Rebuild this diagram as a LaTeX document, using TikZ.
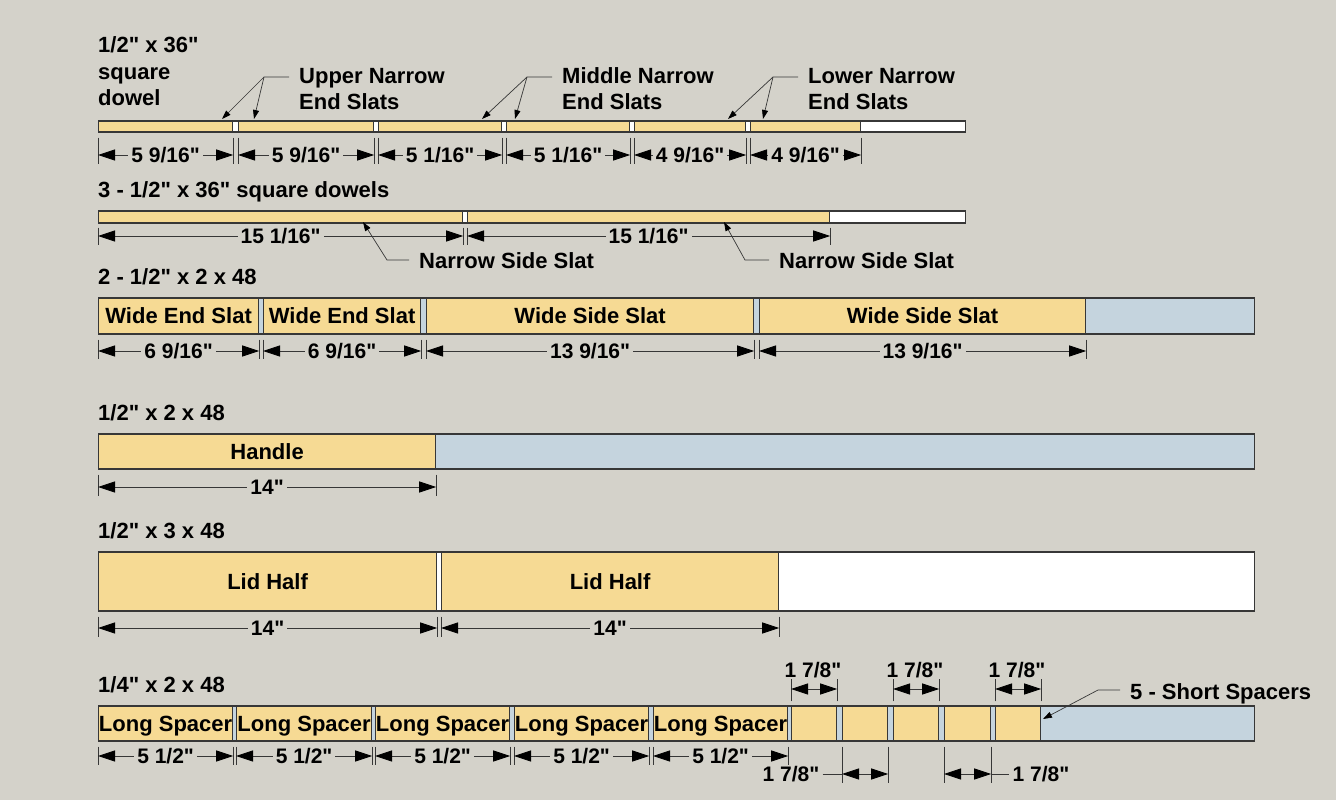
\documentclass[tikz,border=0pt]{standalone}
\usepackage{fontspec}
\newfontfamily\labelfont{Liberation Sans}
\usetikzlibrary{arrows.meta}
\definecolor{bg}{RGB}{212,210,202}
\definecolor{wood}{RGB}{246,218,148}
\definecolor{offcut}{RGB}{197,212,222}
\definecolor{edge}{RGB}{55,55,55}

\begin{document}
\begin{tikzpicture}[x=1pt, y=-1pt,
  stock/.style={draw=edge, line width=1.2pt, inner sep=0pt, anchor=west},
  piece/.style={stock, fill=wood},
  named/.style={piece, text height=15.8pt, text depth=0pt, font=\labelfont\bfseries\fontsize{22}{26}\selectfont},
  rowlbl/.style={anchor=base west, inner sep=0pt, font=\labelfont\bfseries\fontsize{22}{26}\selectfont},
  callout/.style={rowlbl, inner xsep=10pt, align=left},
  dimtxt/.style={fill=bg, inner xsep=3pt, inner ysep=1pt, text height=15pt, text depth=0pt, font=\labelfont\bfseries\fontsize{21}{25}\selectfont},
  dim/.style={draw=edge, line width=0.8pt, arrows={Triangle[length=17pt,width=11pt,color=black]-Triangle[length=17pt,width=11pt,color=black]}},
  ext/.style={draw=edge, line width=0.6pt},
  leader/.style={draw=edge, line width=0.7pt, -{Triangle[length=9pt,width=6pt,color=black]}}]
    \path[fill=bg] (0,0) rectangle (1336,800);

    % 1/2 x 36 dowel
    \node[rowlbl, align=left] (lbl1) at (98,105) {1/2" x 36"\\square\\dowel};
    \node[stock, fill=white, minimum width=867pt, minimum height=11pt] (s1) at (98,126.5) {};
    \node[piece, minimum width=134pt, minimum height=11pt] (a1) at (98,126.5) {};
    \node[piece, minimum width=135pt, minimum height=11pt] (a2) at (238,126.5) {};
    \node[piece, minimum width=123pt, minimum height=11pt] (a3) at (378,126.5) {};
    \node[piece, minimum width=123pt, minimum height=11pt] (a4) at (506,126.5) {};
    \node[piece, minimum width=111pt, minimum height=11pt] (a5) at (634,126.5) {};
    \node[piece, minimum width=110pt, minimum height=11pt] (a6) at (750,126.5) {};
    \coordinate (r1) at (0,155);
    \draw[ext] (a1.south west) ++(0,5) -- ++(0,26) (a1.south east) ++(0,5) -- ++(0,26);
    \draw[ext] (a2.south west) ++(0,5) -- ++(0,26) (a2.south east) ++(0,5) -- ++(0,26);
    \draw[ext] (a3.south west) ++(0,5) -- ++(0,26) (a3.south east) ++(0,5) -- ++(0,26);
    \draw[ext] (a4.south west) ++(0,5) -- ++(0,26) (a4.south east) ++(0,5) -- ++(0,26);
    \draw[ext] (a5.south west) ++(0,5) -- ++(0,26) (a5.south east) ++(0,5) -- ++(0,26);
    \draw[ext] (a6.south west) ++(0,5) -- ++(0,26) (a6.south east) ++(0,5) -- ++(0,26);
    \draw[dim] (a1.south west |- r1) -- node[dimtxt] {5 9/16"} (a1.south east |- r1);
    \draw[dim] (a2.south west |- r1) -- node[dimtxt] {5 9/16"} (a2.south east |- r1);
    \draw[dim] (a3.south west |- r1) -- node[dimtxt] {5 1/16"} (a3.south east |- r1);
    \draw[dim] (a4.south west |- r1) -- node[dimtxt] {5 1/16"} (a4.south east |- r1);
    \draw[dim] (a5.south west |- r1) -- node[dimtxt] {4 9/16"} (a5.south east |- r1);
    \draw[dim] (a6.south west |- r1) -- node[dimtxt] {4 9/16"} (a6.south east |- r1);

    \node[callout] (upper) at (289,110) {Upper Narrow\\End Slats};
    \coordinate (uk) at (264,77);
    \coordinate (ut1) at (222,119); \coordinate (ut2) at (254,119);
    \draw[leader] (upper.west |- uk) -- (uk) -- (ut1); \draw[leader] (uk) -- (ut2);
    \node[callout] (middle) at (552,110) {Middle Narrow\\End Slats};
    \coordinate (mk) at (527,77);
    \coordinate (mt1) at (482,119); \coordinate (mt2) at (515,119);
    \draw[leader] (middle.west |- mk) -- (mk) -- (mt1); \draw[leader] (mk) -- (mt2);
    \node[callout] (lower) at (798,110) {Lower Narrow\\End Slats};
    \coordinate (lk) at (773,77);
    \coordinate (lt1) at (728,119); \coordinate (lt2) at (763,119);
    \draw[leader] (lower.west |- lk) -- (lk) -- (lt1); \draw[leader] (lk) -- (lt2);

    % 3 square dowels
    \node[rowlbl] (lbl2) at (98,197) {3 - 1/2" x 36" square dowels};
    \node[stock, fill=white, minimum width=867pt, minimum height=12pt] (s2) at (98,217) {};
    \node[piece, minimum width=364pt, minimum height=12pt] (b1) at (98,217) {};
    \node[piece, minimum width=362pt, minimum height=12pt] (b2) at (467,217) {};
    \coordinate (r2) at (0,236);
    \draw[ext] (b1.south west) ++(0,4) -- ++(0,17) (b1.south east) ++(0,4) -- ++(0,17);
    \draw[ext] (b2.south west) ++(0,4) -- ++(0,17) (b2.south east) ++(0,4) -- ++(0,17);
    \draw[dim] (b1.south west |- r2) -- node[dimtxt] {15 1/16"} (b1.south east |- r2);
    \draw[dim] (b2.south west |- r2) -- node[dimtxt] {15 1/16"} (b2.south east |- r2);
    \node[callout] (side1) at (409,268) {Narrow Side Slat};
    \coordinate (sk1) at (387,260); \coordinate (st1) at (363,222);
    \draw[leader] (side1.west |- sk1) -- (sk1) -- (st1);
    \node[callout] (side2) at (769,268) {Narrow Side Slat};
    \coordinate (sk2) at (745,260); \coordinate (st2) at (724,222);
    \draw[leader] (side2.west |- sk2) -- (sk2) -- (st2);

    % 2 - 1/2 x 2 x 48
    \node[rowlbl] (lbl3) at (98,284) {2 - 1/2" x 2 x 48};
    \node[stock, fill=offcut, minimum width=1156pt, minimum height=36pt] (s3) at (98,316) {};
    \node[named, minimum width=160pt, minimum height=36pt] (c1) at (98,316) {Wide End Slat};
    \node[named, minimum width=157pt, minimum height=36pt] (c2) at (263,316) {Wide End Slat};
    \node[named, minimum width=327pt, minimum height=36pt] (c3) at (426,316) {Wide Side Slat};
    \node[named, minimum width=326pt, minimum height=36pt] (c4) at (759,316) {Wide Side Slat};
    \coordinate (r3) at (0,351);
    \draw[ext] (c1.south west) ++(0,5) -- ++(0,19) (c1.south east) ++(0,5) -- ++(0,19);
    \draw[ext] (c2.south west) ++(0,5) -- ++(0,19) (c2.south east) ++(0,5) -- ++(0,19);
    \draw[ext] (c3.south west) ++(0,5) -- ++(0,19) (c3.south east) ++(0,5) -- ++(0,19);
    \draw[ext] (c4.south west) ++(0,5) -- ++(0,19) (c4.south east) ++(0,5) -- ++(0,19);
    \draw[dim] (c1.south west |- r3) -- node[dimtxt] {6 9/16"} (c1.south east |- r3);
    \draw[dim] (c2.south west |- r3) -- node[dimtxt] {6 9/16"} (c2.south east |- r3);
    \draw[dim] (c3.south west |- r3) -- node[dimtxt] {13 9/16"} (c3.south east |- r3);
    \draw[dim] (c4.south west |- r3) -- node[dimtxt] {13 9/16"} (c4.south east |- r3);

    % handle
    \node[rowlbl] (lbl4) at (98,420) {1/2" x 2 x 48};
    \node[stock, fill=offcut, minimum width=1156pt, minimum height=35pt] (s4) at (98,451.5) {};
    \node[named, minimum width=337pt, minimum height=35pt] (d1) at (98,451.5) {Handle};
    \coordinate (r4) at (0,487);
    \draw[ext] (d1.south west) ++(0,5) -- ++(0,21) (d1.south east) ++(0,5) -- ++(0,21);
    \draw[dim] (d1.south west |- r4) -- node[dimtxt] {14"} (d1.south east |- r4);

    % lid
    \node[rowlbl] (lbl5) at (98,538) {1/2" x 3 x 48};
    \node[stock, fill=white, minimum width=1156pt, minimum height=59pt] (s5) at (98,581.5) {};
    \node[named, minimum width=338pt, minimum height=59pt] (e1) at (98,581.5) {Lid Half};
    \node[named, minimum width=337pt, minimum height=59pt] (e2) at (441,581.5) {Lid Half};
    \coordinate (r5) at (0,628);
    \draw[ext] (e1.south west) ++(0,5) -- ++(0,20) (e1.south east) ++(0,5) -- ++(0,20);
    \draw[ext] (e2.south west) ++(0,5) -- ++(0,20) (e2.south east) ++(0,5) -- ++(0,20);
    \draw[dim] (e1.south west |- r5) -- node[dimtxt] {14"} (e1.south east |- r5);
    \draw[dim] (e2.south west |- r5) -- node[dimtxt] {14"} (e2.south east |- r5);

    % spacers
    \node[rowlbl] (lbl6) at (98,692) {1/4" x 2 x 48};
    \node[stock, fill=offcut, minimum width=1156pt, minimum height=35pt] (s6) at (98,723.5) {};
    \node[named, minimum width=134pt, minimum height=35pt] (f1) at (98,723.5) {Long Spacer};
    \node[named, minimum width=135pt, minimum height=35pt] (f2) at (236,723.5) {Long Spacer};
    \node[named, minimum width=134pt, minimum height=35pt] (f3) at (375,723.5) {Long Spacer};
    \node[named, minimum width=134pt, minimum height=35pt] (f4) at (514,723.5) {Long Spacer};
    \node[named, minimum width=134pt, minimum height=35pt] (f5) at (653,723.5) {Long Spacer};
    \node[piece, minimum width=45pt, minimum height=35pt] (g1) at (791,723.5) {};
    \node[piece, minimum width=45pt, minimum height=35pt] (g2) at (842,723.5) {};
    \node[piece, minimum width=45pt, minimum height=35pt] (g3) at (893,723.5) {};
    \node[piece, minimum width=46pt, minimum height=35pt] (g4) at (944,723.5) {};
    \node[piece, minimum width=45pt, minimum height=35pt] (g5) at (995,723.5) {};
    \coordinate (r6) at (0,756);
    \draw[ext] (f1.south west) ++(0,5) -- ++(0,18) (f1.south east) ++(0,5) -- ++(0,18);
    \draw[ext] (f2.south west) ++(0,5) -- ++(0,18) (f2.south east) ++(0,5) -- ++(0,18);
    \draw[ext] (f3.south west) ++(0,5) -- ++(0,18) (f3.south east) ++(0,5) -- ++(0,18);
    \draw[ext] (f4.south west) ++(0,5) -- ++(0,18) (f4.south east) ++(0,5) -- ++(0,18);
    \draw[ext] (f5.south west) ++(0,5) -- ++(0,18) (f5.south east) ++(0,5) -- ++(0,18);
    \draw[dim] (f1.south west |- r6) -- node[dimtxt] {5 1/2"} (f1.south east |- r6);
    \draw[dim] (f2.south west |- r6) -- node[dimtxt] {5 1/2"} (f2.south east |- r6);
    \draw[dim] (f3.south west |- r6) -- node[dimtxt] {5 1/2"} (f3.south east |- r6);
    \draw[dim] (f4.south west |- r6) -- node[dimtxt] {5 1/2"} (f4.south east |- r6);
    \draw[dim] (f5.south west |- r6) -- node[dimtxt] {5 1/2"} (f5.south east |- r6);

    \coordinate (ra) at (0,689);
    \draw[ext] (g1.north west) ++(0,-4) -- ++(0,-22) (g1.north east) ++(0,-4) -- ++(0,-22);
    \draw[ext] (g3.north west) ++(0,-4) -- ++(0,-22) (g3.north east) ++(0,-4) -- ++(0,-22);
    \draw[ext] (g5.north west) ++(0,-4) -- ++(0,-22) (g5.north east) ++(0,-4) -- ++(0,-22);
    \draw[dim] (g1.north west |- ra) -- (g1.north east |- ra);
    \draw[dim] (g3.north west |- ra) -- (g3.north east |- ra);
    \draw[dim] (g5.north west |- ra) -- (g5.north east |- ra);
    \node[dimtxt] (h1) at (813,670) {1 7/8"};
    \node[dimtxt] (h3) at (915,670) {1 7/8"};
    \node[dimtxt] (h5) at (1017,670) {1 7/8"};

    \coordinate (rb) at (0,774);
    \draw[ext] (g2.south west) ++(0,5) -- ++(0,36) (g2.south east) ++(0,5) -- ++(0,36);
    \draw[ext] (g4.south west) ++(0,5) -- ++(0,36) (g4.south east) ++(0,5) -- ++(0,36);
    \node[dimtxt] (h2) at (791,774) {1 7/8"};
    \node[dimtxt] (h4) at (1041,774) {1 7/8"};
    \draw[dim] (g2.south west |- rb) -- (g2.south east |- rb);
    \draw[dim] (g4.south west |- rb) -- (g4.south east |- rb);
    \draw[ext] (h2.east) -- (g2.south west |- rb); \draw[ext] (g4.south east |- rb) -- (h4.west);

    \node[callout] (short) at (1120,699) {5 - Short Spacers};
    \coordinate (hk) at (1098,690); \coordinate (ht) at (1043,719);
    \draw[leader] (short.west |- hk) -- (hk) -- (ht);
\end{tikzpicture}
\end{document}
